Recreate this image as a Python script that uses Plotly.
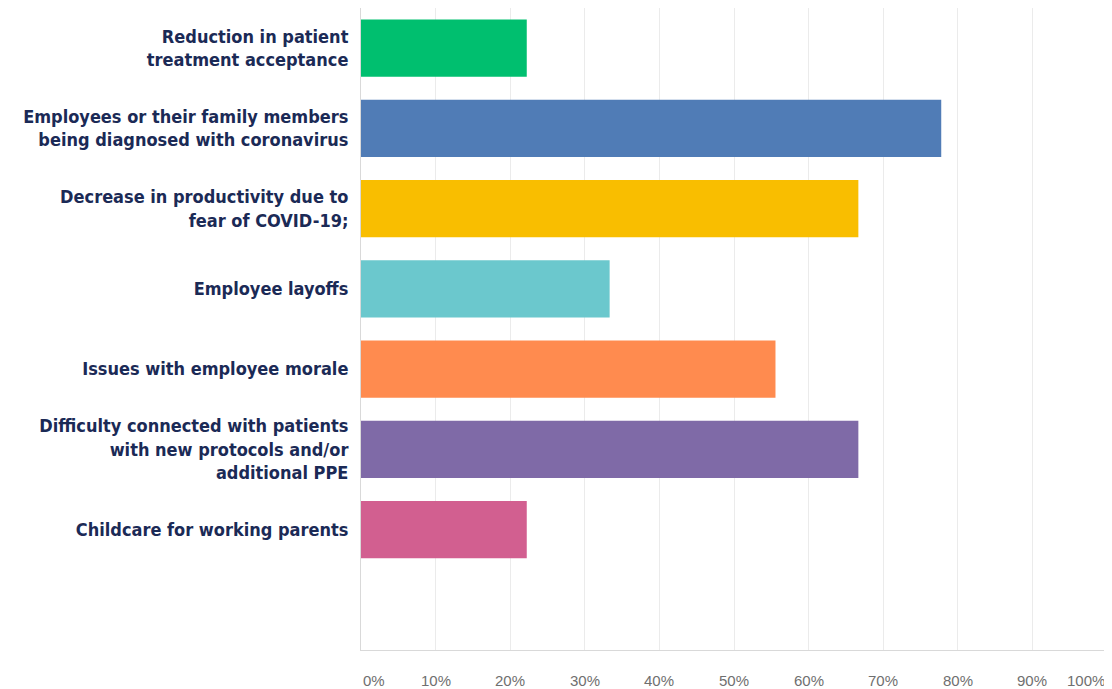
import plotly.graph_objects as go

categories = [
    "Reduction in patient<br>treatment acceptance",
    "Employees or their family members<br>being diagnosed with coronavirus",
    "Decrease in productivity due to<br>fear of COVID-19;",
    "Employee layoffs",
    "Issues with employee morale",
    "Difficulty connected with patients<br>with new protocols and/or<br>additional PPE",
    "Childcare for working parents",
    " ",
]
values = [22.22, 77.78, 66.67, 33.33, 55.56, 66.67, 22.22, 0]
colors = ["#00bf6f", "#507cb6", "#f9be00", "#6bc8cd", "#ff8b4f", "#7f6aa7", "#d25f90", "#cccccc"]
tick_vals = [0, 10, 20, 30, 40, 50, 60, 70, 80, 90, 100]
tick_text = ["0%", "10%", "20%", "30%", "40%", "50%", "60%", "70%", "80%", "90%", "100%"]

fig = go.Figure(go.Bar(
    x=values, y=categories, orientation="h",
    marker=dict(color=colors, line=dict(width=0)),
    hoverinfo="x+y",
))

annotations = []
for v, t in zip(tick_vals, tick_text):
    anchor = "left" if v == 0 else ("right" if v == 100 else "center")
    annotations.append(dict(
        x=v, xref="x", y=0, yref="paper", yanchor="top", yshift=-20,
        xanchor=anchor, text=t, showarrow=False,
        font=dict(family="Liberation Sans, Arial", size=15, color="#6f6f6f"),
    ))

fig.update_layout(
    width=1104, height=681,
    margin=dict(l=353, r=5, t=0, b=39, autoexpand=False),
    paper_bgcolor="white", plot_bgcolor="white",
    bargap=0.284,
    showlegend=False,
    annotations=annotations,
    xaxis=dict(
        range=[0, 100], tickvals=tick_vals, showticklabels=False,
        showgrid=True, gridcolor="#ebebeb", gridwidth=1,
        zeroline=False, showline=True, linecolor="#d9d9d9", linewidth=1, mirror=False,
        fixedrange=True, automargin=False,
    ),
    yaxis=dict(
        categoryorder="array", categoryarray=categories, autorange="reversed",
        showgrid=False, zeroline=False, showline=True, linecolor="#d9d9d9", mirror=False,
        ticks="", ticklabelstandoff=8, automargin=False,
        tickfont=dict(family="DejaVu Sans Condensed, DejaVu Sans", size=18, color="#1b2a56", weight="bold"),
    ),
)

fig.write_html("out.html")
